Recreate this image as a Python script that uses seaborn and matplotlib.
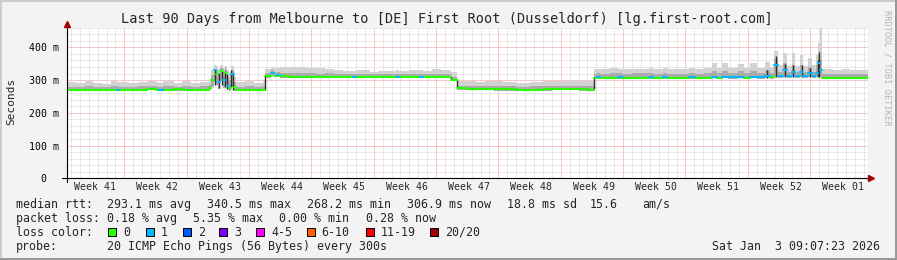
import numpy as np
import pandas as pd
import matplotlib
matplotlib.use("Agg")
import matplotlib.pyplot as plt
import seaborn as sns
from matplotlib.patches import Rectangle
import matplotlib.transforms as mtransforms

# ---------------- data (days from graph start, milliseconds) ----------------
day = [0, 1, 2, 3, 4, 5, 5.6, 5.9, 7, 8, 9, 10, 10.4, 10.8, 12, 13, 14, 15, 16,
       16.25, 16.5, 16.75, 17.0, 17.25, 17.5, 17.75, 18.0, 18.25, 18.5, 18.75,
       19, 20, 21, 22, 22.3,
       22.9, 23.3, 23.6, 23.9, 25, 26, 27, 28, 29, 30, 31, 32.2, 32.5, 34, 35, 36,
       37, 37.3, 38.5, 39.7, 40, 41, 42, 43.1, 43.8,
       45, 46, 47, 48, 49, 50.5, 52, 53.5, 54.5, 55.5, 56.5, 57.5, 58.5,
       59.2, 59.5, 59.9, 61, 61.9, 62.3, 63.5, 65.4, 65.8, 67, 67.4, 68.5, 69.9,
       70.5, 71.5, 72.4, 73.0, 73.6, 74.3, 75.4, 76.0, 76.7, 77.5, 78.4, 79.0,
       79.45, 79.85, 80.45, 80.85, 81.4, 81.8, 82.3, 82.7, 83.25, 83.65, 84.15,
       84.4, 84.6, 84.85,
       86, 87, 88, 89, 90]
median_ms = [271, 271, 271, 271, 270, 271, 271, 271, 270, 271, 274, 271, 270, 271, 272, 271, 271, 271, 276,
             300, 330, 318, 295, 328, 300, 322, 282, 275, 318, 278,
             271, 271, 271, 271, 311,
             322, 313, 314, 311, 309, 309, 309, 309, 309, 309, 309, 310, 309, 309, 309, 309,
             310, 309, 309, 310, 309, 309, 309, 299, 275,
             274, 273, 273, 272, 272, 270, 270, 272, 273, 273, 273, 272, 271,
             307, 309, 307, 307, 309, 307, 307, 309, 307, 309, 307, 307, 309,
             307, 307, 310, 307, 309, 308, 309, 307, 310, 308, 312, 308,
             346, 312, 331, 312, 326, 311, 326, 311, 321, 312, 322,
             351, 330, 307,
             307, 307, 307, 307, 307]
smoke_lo = [268, 268, 268, 268, 267, 268, 268, 268, 267, 268, 270, 268, 267, 268, 268, 268, 268, 268, 270,
            278, 295, 285, 272, 298, 275, 285, 270, 268, 280, 268,
            268, 268, 268, 268, 306,
            312, 309, 309, 307, 306, 306, 306, 306, 306, 306, 306, 306, 306, 306, 306, 306,
            306, 306, 306, 306, 306, 306, 306, 296, 271,
            270, 269, 269, 268, 268, 267, 267, 268, 269, 269, 269, 268, 268,
            303, 304, 304, 304, 304, 304, 304, 304, 304, 304, 304, 304, 304,
            304, 304, 305, 304, 305, 304, 305, 304, 305, 304, 306, 304,
            310, 306, 310, 306, 309, 306, 309, 306, 308, 306, 309,
            312, 308, 304,
            304, 304, 304, 304, 304]
smoke_mid = [280, 279, 281, 280, 278, 282, 281, 280, 279, 281, 283, 280, 280, 281, 280, 282, 279, 281, 285,
             315, 335, 330, 318, 336, 325, 333, 310, 300, 330, 295,
             280, 281, 279, 282, 322,
             330, 324, 324, 323, 322, 321, 322, 320, 321, 319, 318, 318, 319, 318, 319, 318,
             319, 318, 319, 319, 318, 320, 319, 310, 283,
             283, 282, 283, 282, 281, 280, 281, 282, 283, 282, 283, 282, 283,
             320, 321, 320, 321, 321, 320, 321, 321, 320, 322, 320, 320, 322,
             320, 321, 328, 322, 328, 322, 327, 322, 328, 321, 330, 322,
             365, 326, 352, 325, 346, 324, 345, 324, 340, 325, 345,
             378, 360, 320,
             319, 320, 319, 320, 320]
smoke_hi = [293, 290, 296, 292, 289, 298, 295, 294, 291, 295, 297, 293, 292, 296, 292, 297, 291, 295, 300,
            330, 346, 342, 335, 346, 340, 344, 330, 322, 342, 310,
            293, 297, 292, 300, 334,
            340, 338, 337, 339, 341, 340, 338, 336, 334, 330, 328, 327, 330, 326, 329, 327,
            330, 327, 331, 330, 327, 333, 330, 326, 298,
            297, 295, 298, 296, 294, 292, 295, 296, 298, 296, 299, 297, 298,
            333, 335, 334, 336, 335, 333, 335, 336, 333, 336, 334, 333, 338,
            334, 336, 351, 337, 351, 337, 349, 337, 351, 338, 356, 340,
            389, 346, 384, 343, 384, 342, 375, 342, 366, 345, 377,
            412, 459, 333,
            331, 333, 330, 332, 332]
lost_pings = [0, 0, 0, 0, 0, 0, 1, 0, 0, 0, 0, 0, 1, 0, 0, 0, 0, 0, 0,
              0, 1, 0, 1, 0, 1, 0, 1, 0, 1, 0,
              0, 0, 0, 0, 0,
              1, 0, 1, 0, 0, 0, 0, 0, 0, 0, 0, 1, 0, 0, 0, 0,
              1, 0, 0, 1, 0, 0, 0, 0, 0,
              0, 0, 0, 0, 0, 0, 0, 0, 0, 0, 0, 0, 0,
              0, 1, 0, 0, 1, 0, 0, 1, 0, 1, 0, 0, 1,
              0, 0, 1, 0, 1, 1, 1, 0, 1, 1, 1, 0,
              1, 1, 1, 1, 1, 1, 1, 1, 1, 1, 1,
              1, 1, 0,
              0, 0, 0, 0, 0]

# dense smoke columns (spikes and level changes)
column_day = [16.65, 17.05, 17.4, 17.8, 18.05, 18.4, 18.65, 22.3, 43.1, 43.8, 59.2,
              78.6, 79.65, 80.65, 81.6, 82.5, 83.45, 84.3, 84.5]
column_lo = [285, 275, 285, 280, 272, 278, 270, 271, 299, 275, 272,
             306, 310, 310, 308, 308, 308, 310, 310]
column_hi = [330, 322, 332, 328, 318, 330, 318, 311, 309, 299, 307,
             330, 372, 350, 345, 345, 336, 362, 385]

week_labels = ["Week 41", "Week 42", "Week 43", "Week 44", "Week 45", "Week 46", "Week 47",
               "Week 48", "Week 49", "Week 50", "Week 51", "Week 52", "Week 01"]
first_week_boundary = 6.47
y_ticks = [0, 100, 200, 300, 400]
y_tick_labels = ["0  ", "100 m", "200 m", "300 m", "400 m"]

loss_names = ["0", "1", "2", "3", "4-5", "6-10", "11-19", "20/20"]
loss_colors = ["#26ff00", "#00b8ff", "#0059ff", "#7e00ff", "#ff00ff", "#ff5e00", "#ff0000", "#a00000"]

title = "Last 90 Days from Melbourne to [DE] First Root (Dusseldorf) [lg.first-root.com]"
rtt_stats = ["median rtt:", "293.1 ms avg", "340.5 ms max", "268.2 ms min", "306.9 ms now",
             "18.8 ms sd", "15.6", "am/s"]
loss_stats = ["packet loss:", "0.18 % avg", "5.35 % max", "0.00 % min", "0.28 % now"]
probe_text = ["probe:", "20 ICMP Echo Pings (56 Bytes) every 300s"]
timestamp = "Sat Jan  3 09:07:23 2026"

# ---------------- layout ----------------
W, H = 897, 260
sns.set_theme(style="white")
plt.rcParams["font.family"] = ["DejaVu Sans Mono", "DejaVu Sans"]
plt.rcParams["lines.scale_dashes"] = False

fig = plt.figure(figsize=(W / 100, H / 100), dpi=100, facecolor="#f3f3f3")
x0, x1 = 66.7, 868.3
ybot, ytop = 178.3, 27.65
ax = fig.add_axes([x0 / W, 1 - ybot / H, (x1 - x0) / W, (ybot - ytop) / H])
ax.set_facecolor("white")
ax.set_xlim(0, 90)
ax.set_ylim(0, 460)
for s in ax.spines.values():
    s.set_visible(False)

week_bounds = first_week_boundary + 7 * np.arange(12)
ax.set_xticks(week_bounds)
ax.set_xticks(np.arange(first_week_boundary % 1, 90, 1.0), minor=True)
ax.set_xticklabels([])
ax.set_yticks(y_ticks)
ax.set_yticks(np.arange(0, 461, 20), minor=True)
ax.set_yticklabels(y_tick_labels, fontsize=7.1, fontfamily="DejaVu Sans Mono")
ax.tick_params(axis="y", which="major", length=2, width=0.7, direction="out", pad=3.2, colors="black")
ax.tick_params(axis="x", which="major", length=3, width=0.7, direction="inout", colors="black")
ax.tick_params(axis="both", which="minor", length=1.5, width=0.6, direction="in", colors="#555555")

dot = (0, (0.72, 0.72))
ax.grid(True, which="minor", color="#d2d2d2", linestyle=dot, linewidth=0.72)
ax.grid(True, which="major", color="#f29090", linestyle=dot, linewidth=0.72)
ax.set_axisbelow(True)

# smoke
ax.fill_between(day, smoke_lo, smoke_hi, step="post", color="#d2d2d2", lw=0, zorder=2)
ax.fill_between(day, smoke_lo, smoke_mid, step="post", color="#ababab", lw=0, zorder=2.1)
ax.vlines(column_day, column_lo, column_hi, color="#2e2e2e", lw=1.0, zorder=2.5)


def loss_index(n):
    if n <= 3:
        return n
    if n <= 5:
        return 4
    if n <= 10:
        return 5
    if n <= 19:
        return 6
    return 7


# median line: one horizontal piece per sample, coloured by loss
rows = []
for i in range(len(day) - 1):
    lvl = loss_names[loss_index(lost_pings[i])]
    rows.append((i, day[i], median_ms[i], lvl))
    rows.append((i, day[i + 1], median_ms[i], lvl))
med_df = pd.DataFrame(rows, columns=["seg", "t", "ms", "loss"])
sns.lineplot(data=med_df, x="t", y="ms", units="seg", hue="loss", estimator=None, sort=False,
             palette=dict(zip(loss_names, loss_colors)), linewidth=1.5, ax=ax, legend=False,
             zorder=3)
ax.set_xlabel("")
ax.set_ylabel("")

# axes with arrows
axw = x1 - x0
axh = ybot - ytop
ax.plot([(62 - x0) / axw, (871 - x0) / axw], [0, 0], transform=ax.transAxes, color="black",
        lw=0.8, clip_on=False, zorder=5)
ax.plot([0, 0], [-(182 - ybot) / axh, (ybot - 24) / axh], transform=ax.transAxes, color="black",
        lw=0.8, clip_on=False, zorder=5)
ax.plot([(871 - x0) / axw], [0], transform=ax.transAxes, marker=">", ms=4.5, color="#a00000",
        clip_on=False, zorder=6)
ax.plot([0], [(ybot - 24) / axh], transform=ax.transAxes, marker="^", ms=4.5, color="#a00000",
        clip_on=False, zorder=6)

# week labels centred between boundaries
trans = mtransforms.blended_transform_factory(ax.transData, ax.transAxes)
label_pos = list(week_bounds - 3.5) + [week_bounds[-1] + 3.5]
for lab, xp in zip(week_labels, label_pos):
    ax.text(xp + 0.2, -(187 - ybot) / axh, lab, transform=trans, ha="center", va="center",
            fontsize=7.1, fontfamily="DejaVu Sans Mono")


def ftext(x, y, s, **kw):
    fig.text(x / W, 1 - y / H, s, **kw)


ftext(447.2, 19, title, ha="center", va="center", fontsize=9.8)
ftext(11, 101.7, "Seconds", ha="center", va="center", rotation=90, fontsize=8.0)
ftext(887, 68, "RRDTOOL / TOBI OETIKER", ha="center", va="center", rotation=270,
      fontsize=6.2, color="#b4b4b4")

fs = 8.4
for s, xp in zip(rtt_stats, [16, 107.3, 207.3, 307.3, 407.3, 507.3, 590, 642.7]):
    ftext(xp, 204.3, s, ha="left", va="center", fontsize=fs)
for s, xp in zip(loss_stats, [16, 107.3, 192.7, 279.3, 365.7]):
    ftext(xp, 218.3, s, ha="left", va="center", fontsize=fs)
ftext(16, 232.3, "loss color:", ha="left", va="center", fontsize=fs)
box_x = [108, 145.7, 182.7, 219.3, 256, 306.7, 365.7, 430]
for name, col, bx in zip(loss_names, loss_colors, box_x):
    fig.add_artist(Rectangle((bx / W, 1 - 236.3 / H), 8 / W, 8 / H, transform=fig.transFigure,
                             facecolor=col, edgecolor="black", lw=0.7))
    ftext(bx + 15, 232.3, name, ha="left", va="center", fontsize=fs)
ftext(16, 246.3, probe_text[0], ha="left", va="center", fontsize=fs)
ftext(107.3, 246.3, probe_text[1], ha="left", va="center", fontsize=fs)
ftext(880, 246.3, timestamp, ha="right", va="center", fontsize=fs)

# image border
fig.add_artist(Rectangle((0, 1 - 2 / H), 1, 2 / H, transform=fig.transFigure, color="#cccccc", lw=0))
fig.add_artist(Rectangle((0, 0), 2 / W, 1, transform=fig.transFigure, color="#cccccc", lw=0))
fig.add_artist(Rectangle((0, 0), 1, 2 / H, transform=fig.transFigure, color="#999999", lw=0))
fig.add_artist(Rectangle((1 - 2 / W, 0), 2 / W, 1, transform=fig.transFigure, color="#999999", lw=0))

fig.savefig("out.png", dpi=100, facecolor=fig.get_facecolor())
